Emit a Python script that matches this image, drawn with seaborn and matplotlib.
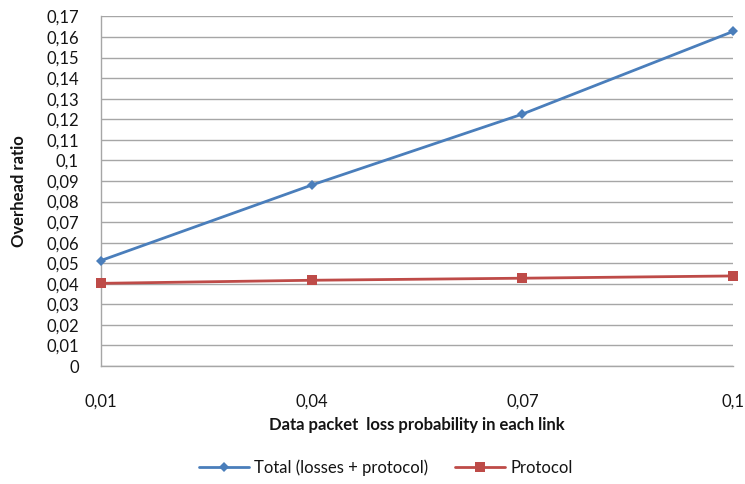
import matplotlib
matplotlib.use("Agg")
import matplotlib.pyplot as plt
import seaborn as sns
import pandas as pd

# Data packet loss probability per link and the resulting overhead ratios
loss_prob = [0.01, 0.04, 0.07, 0.1]
loss_labels = ["0,01", "0,04", "0,07", "0,1"]
total_overhead = [0.0513, 0.0880, 0.1225, 0.1627]
protocol_overhead = [0.0402, 0.0417, 0.0427, 0.0438]
series_names = ["Total (losses + protocol)", "Protocol"]

y_ticks = [i / 100 for i in range(0, 18)]
y_labels = ["0" if v == 0 else f"{v:.2f}".rstrip("0").replace(".", ",") for v in y_ticks]

df = pd.DataFrame({
    "loss": loss_prob * 2,
    "overhead": total_overhead + protocol_overhead,
    "series": [series_names[0]] * 4 + [series_names[1]] * 4,
})

sns.set_style("white")
plt.rcParams["font.family"] = ["Lato", "DejaVu Sans"]

fig = plt.figure(figsize=(7.45, 4.84), dpi=100)
ax = fig.add_axes([0.1356, 0.2438, 0.8483, 0.7222])

grid_color = "#a6a6a6"
text_color = "#141414"
for v in y_ticks:
    ax.axhline(v, color=grid_color, lw=1.0, zorder=0)

palette = {series_names[0]: "#4a7ebb", series_names[1]: "#be4b48"}
markers = {series_names[0]: "D", series_names[1]: "s"}
sizes = {series_names[0]: 5, series_names[1]: 7}
for name in series_names:
    sub = df[df["series"] == name]
    sns.lineplot(data=sub, x="loss", y="overhead", ax=ax, color=palette[name],
                 marker=markers[name], markersize=sizes[name], markeredgewidth=0,
                 lw=2.0, label=name, zorder=3, clip_on=False)

ax.set_xlim(loss_prob[0], loss_prob[-1])
ax.set_ylim(0, 0.17)
ax.set_xticks(loss_prob)
ax.set_xticklabels(loss_labels)
ax.set_yticks(y_ticks)
ax.set_yticklabels(y_labels)

for side in ["top", "right"]:
    ax.spines[side].set_visible(False)
for side in ["left", "bottom"]:
    ax.spines[side].set_color(grid_color)
    ax.spines[side].set_linewidth(1.0)

ax.tick_params(axis="both", direction="out", length=7, width=1.0, color=grid_color,
               labelsize=12, labelcolor=text_color)
ax.tick_params(axis="x", pad=13)
ax.tick_params(axis="y", pad=9)

ax.set_xlabel("Data packet  loss probability in each link", fontsize=12,
              fontweight="bold", color=text_color, labelpad=5)
ax.set_ylabel("Overhead ratio", fontsize=12, fontweight="bold", color=text_color, labelpad=14)

ax.get_legend().remove()
handles, labels = ax.get_legend_handles_labels()
fig.legend(handles, labels, loc="center", bbox_to_anchor=(0.518, 0.033), ncol=2,
           frameon=False, fontsize=12, handlelength=3.0, handletextpad=0.3,
           columnspacing=1.6, labelcolor=text_color)

fig.savefig("out.png", dpi=100)
